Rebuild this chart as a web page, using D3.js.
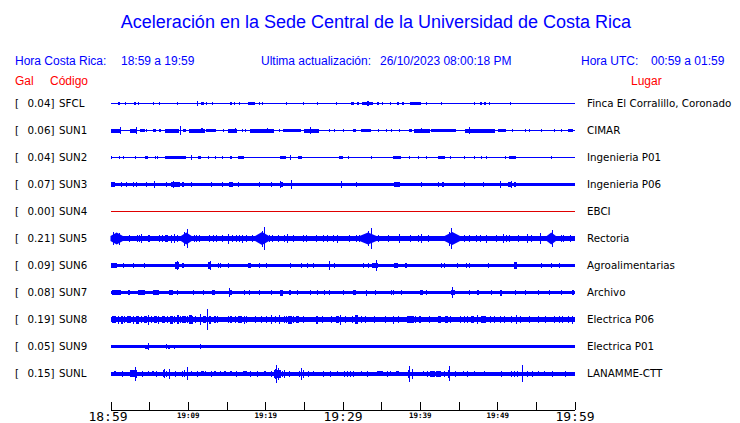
<!DOCTYPE html>
<html><head><meta charset="utf-8">
<script src="https://cdn.jsdelivr.net/npm/d3@7"></script>
<style>
html,body{margin:0;padding:0;background:#fff;}
svg{display:block;}
</style></head>
<body>
<svg id="c" width="740" height="423"></svg>
<script>
// ---------- data ----------
const codes  = ["SFCL","SUN1","SUN2","SUN3","SUN4","SUN5","SUN6","SUN7","SUN8","SUN9","SUNL"];
const gal    = [0.04, 0.06, 0.04, 0.07, 0.00, 0.21, 0.09, 0.08, 0.19, 0.05, 0.15];
const places = ["Finca El Corralillo, Coronado","CIMAR","Ingenieria P01","Ingenieria P06","EBCI",
                "Rectoria","Agroalimentarias","Archivo","Electrica P06","Electrica P01","LANAMME-CTT"];
// background (noise) half-amplitude of every trace
const baseAmp = [0.5, 0.5, 0.5, 1.5, 0.5, 2.5, 1.5, 1.5, 2.5, 1.5, 2];
// bursts: [minute after 18:59, half-amplitude, duration in minutes]
const SFCL = [[1.1,1.5,0.3],[1.9,1.5,0.1],[3.2,1.5,0.2],[3.6,1.5,0.1],[5.5,1.5,0.1],[6.3,1.5,0.1],[8.7,1.5,0.1],
  [11.3,2.5,0.15],[11.9,1.5,0.3],[12.4,1.5,0.2],[13.2,1.5,0.1],[15.6,1.5,0.2],[16.0,1.5,0.1],[16.7,1.5,0.1],
  [18.2,1.5,0.9],[19.3,1.5,0.1],[19.6,1.5,0.1],[22.7,1.5,0.1],[24.9,1.5,0.1],[26.8,1.5,0.1],[29.2,1.5,0.1],
  [31.3,1.5,0.5],[32.0,1.5,0.2],[33.2,1.5,1.4],[33.3,2.5,0.2],[34.6,1.5,0.15],[35.2,1.5,0.1],[36.2,1.5,0.1],
  [37.2,1.5,0.3],[37.8,1.5,0.3],[39.4,1.5,1.4],[40.8,1.5,0.1],[42.8,1.5,0.1],[47.1,1.5,0.1],[47.9,1.5,0.15],
  [48.4,1.5,0.2],[49.0,1.5,0.1],[51.7,1.5,0.1]];
const SUN1 = [[0.7,2,1.3],[1.3,3.5,0.13],[2.9,2,0.8],[3.35,3.5,0.13],[4.1,1.5,0.6],[4.6,1.5,0.13],[5.7,1.5,0.4],
  [6.4,1.5,0.3],[7.9,2,1.8],[9.0,4.5,0.13],[9.6,1.5,0.4],[11.2,2,2.0],[11.8,2.5,0.2],[13.0,1.5,1.2],[14.6,1.5,0.1],
  [15.8,2,1.1],[16.2,2.5,0.13],[17.0,1.5,0.1],[17.5,1.5,0.1],[18.3,1.5,0.4],[19.6,2,3.2],[20.3,2.5,0.13],
  [21.9,1.5,0.1],[23.5,1.5,2.3],[26.0,2,1.9],[25.8,3.5,0.13],[28.3,1.5,0.1],[29.0,1.5,0.1],[30.1,1.5,0.1],
  [31.6,1.5,0.4],[33.0,1.5,1.3],[34.6,1.5,0.1],[35.7,1.5,0.2],[36.3,1.5,0.1],[37.4,1.5,0.1],[38.8,1.5,0.3],
  [40.3,2,2.0],[40.2,2.5,0.13],[43.1,1.5,3.2],[47.8,2,3.9],[46.4,3.5,0.13],[50.6,1.5,1.1],[52.0,1.5,0.1],
  [53.6,1.5,0.1],[54.2,1.5,0.1],[55.7,1.5,0.1],[57.4,1.5,0.1],[58.3,1.5,0.1],[59.5,1.5,0.6]];
const SUN2 = [[0.1,1.5,0.2],[1.1,1.5,0.1],[1.7,1.5,0.1],[3.2,1.5,0.1],[4.6,1.5,0.4],[5.8,1.5,0.1],[6.1,1.5,0.1],
  [8.4,1.5,2.6],[7.7,1.5,0.2],[10.45,2.5,0.13],[11.5,1.5,0.4],[12.6,1.5,0.1],[13.5,1.5,0.1],[14.5,1.5,0.1],
  [15.6,1.5,0.3],[16.9,1.5,0.7],[22.3,1.5,0.8],[23.3,2.5,0.13],[24.5,1.5,0.6],[29.8,1.5,0.4],[30.8,1.5,0.1],
  [33.7,1.5,0.1],[37.0,1.5,1.0],[38.7,1.5,0.1],[39.8,1.5,0.1],[40.8,1.5,0.1],[42.8,1.5,0.8],[43.9,1.5,0.1],
  [45.8,1.5,0.1],[47.0,1.5,0.1],[48.0,1.5,0.1],[48.6,1.5,0.1],[51.0,1.5,0.1],[52.0,1.5,0.9],[57.0,1.5,0.1]];
const SUN3 = [[0.3,2.5,0.5],[1.4,2.5,0.1],[2.05,2.5,0.1],[2.9,2.5,0.1],[3.35,2.5,0.2],[4.6,2.5,0.1],[5.7,3.5,0.13],
  [7.2,2.5,0.1],[8.4,2.5,1.1],[8.1,3.5,0.13],[9.4,2.5,0.2],[10.45,2.5,0.1],[13.0,2.5,0.1],[14.5,2.5,0.1],
  [15.6,2.5,0.5],[16.6,2.5,0.1],[19.3,2.5,0.1],[20.8,2.5,0.1],[22.1,2.5,0.4],[22.0,3.5,0.13],[23.4,4.5,0.13],
  [29.85,3.5,0.13],[31.8,2.5,0.1],[37.0,2.5,0.8],[40.2,2.5,0.1],[42.4,2.5,0.2],[43.0,2.5,0.3],[45.8,2.5,0.1],
  [48.2,2.5,0.1],[50.45,3.5,0.13],[51.6,2.5,0.3],[52.3,2.5,0.3],[51.9,3.5,0.13]];
const SUN4 = [];
const SUN5 = [[0.8,6,1.6],[0.4,6.5,0.13],[1.2,6,0.13],[2.5,3.5,0.13],[3.5,3.5,0.13],[3.8,3.5,0.13],[4.0,4.5,0.13],
  [5.0,3.5,0.2],[5.1,3.5,0.13],[6.3,3.5,0.13],[6.7,3.5,0.13],[7.2,3.5,0.4],[7.9,4,0.13],[8.3,4.5,0.13],[8.7,3.5,0.13],
  [9.9,9.5,0.13],[9.6,7,0.13],[9.8,6,1.4],[10.8,3.5,0.13],[11.1,3.5,0.13],[11.5,3.5,0.13],[12.8,3.5,0.13],
  [13.3,3.5,0.13],[13.7,3.5,0.13],[14.5,3.5,0.13],[15.3,5,0.13],[15.8,3.5,0.13],[16.3,3.5,0.13],[16.7,3.5,0.13],
  [17.1,4,0.13],[17.6,3.5,0.13],[18.3,3.5,0.13],[18.4,3.5,0.13],[19.85,11.5,0.13],[19.7,8,0.13],[19.6,6.5,1.8],
  [20.6,3.5,0.13],[21.0,3.5,0.13],[21.7,3.5,0.13],[22.5,3.5,0.13],[22.9,4.5,0.13],[23.6,3.5,0.13],[24.9,3.5,0.13],
  [25.3,3.5,0.13],[26.6,3.5,0.13],[27.5,3.5,0.13],[28.1,3.5,0.13],[28.8,3.5,0.13],[29.4,4,0.13],[30.9,3.5,0.13],
  [31.8,3.5,0.13],[32.2,3.5,0.13],[33.8,10.5,0.13],[33.3,7.5,0.13],[33.3,6,2.2],[34.6,3.5,0.13],[35.9,3.5,0.13],
  [37.4,4.5,0.13],[38.8,3.5,0.13],[39.8,3.5,0.13],[40.2,4.5,0.13],[41.1,3.5,0.13],[44.1,10.5,0.13],[43.9,7,0.13],
  [44.2,6.5,2.0],[45.8,3.5,0.13],[46.4,3.5,0.13],[47.3,3.5,0.13],[47.9,3.5,0.13],[48.6,4,0.13],[49.9,3.5,0.13],
  [50.8,4.5,0.13],[51.2,3.5,0.13],[51.6,3.5,0.13],[52.7,3.5,0.13],[53.9,4.5,0.13],[54.5,3.5,0.13],[55.6,5.5,0.13],
  [57.1,8.5,0.13],[57.0,6,1.2],[58.3,3.5,0.13],[58.6,3.5,0.13],[59.5,3.5,0.13]];
const SUN6 = [[0.5,2.5,0.8],[1.7,2.5,0.1],[2.9,2.5,0.1],[4.4,2.5,0.1],[8.6,3.5,0.5],[8.7,4.5,0.13],[9.4,2.5,0.3],
  [12.8,3.5,0.3],[12.9,4.5,0.13],[13.9,2.5,0.1],[14.2,2.5,0.1],[15.2,2.5,0.1],[18.0,2.5,0.4],[19.3,2.5,0.1],
  [20.1,2.5,0.1],[23.2,2.5,0.1],[24.7,2.5,0.1],[25.5,2.5,0.1],[26.2,2.5,0.1],[28.3,4.5,0.13],[29.0,2.5,0.1],
  [32.7,2.5,0.1],[33.3,2.5,0.1],[34.2,2.5,0.8],[34.4,5.5,0.13],[36.9,2.5,0.6],[38.2,2.5,0.3],[42.8,2.5,0.1],
  [43.2,2.5,0.1],[44.9,2.5,0.1],[46.0,2.5,0.1],[46.4,2.5,0.1],[48.8,2.5,0.1],[52.4,3.5,0.4],[55.7,2.5,0.1],
  [57.0,2.5,0.1],[58.1,2.5,0.1]];
const SUN7 = [[0.8,2.5,1.2],[2.3,2.5,0.1],[2.5,2.5,0.1],[4.0,2.5,1.0],[5.9,2.5,0.8],[7.8,2.5,0.6],[8.7,2.5,0.1],
  [10.7,2.5,0.1],[12.0,2.5,0.1],[13.3,2.5,0.4],[15.4,4.5,0.13],[15.5,2.5,0.4],[17.3,2.5,0.1],[18.0,2.5,0.1],
  [19.3,2.5,0.1],[20.8,2.5,0.1],[22.1,3,0.3],[23.2,2.5,0.2],[24.2,2.5,0.2],[25.8,2.5,0.1],[26.8,2.5,0.1],
  [27.6,2.5,0.1],[28.3,2.5,0.1],[30.1,2.5,0.1],[31.6,2.5,0.4],[33.1,3,0.2],[34.2,2.5,0.1],[36.3,2.5,0.1],
  [36.6,2.5,0.1],[37.6,2.5,0.1],[40.2,2.5,0.3],[40.8,2.5,0.1],[44.2,5.5,0.13],[44.3,2.5,0.5],[46.4,2.5,0.1],
  [47.5,2.5,0.3],[49.2,2.5,0.1],[50.5,3,0.2],[52.3,2.5,0.1],[53.6,2.5,0.1],[55.3,2.5,0.1],[56.8,2.5,0.1],
  [58.3,2.5,0.1],[59.8,2.5,0.2]];
const SUN8 = [[0.3,3.5,0.13],[0.5,3.5,0.4],[1.0,4,0.13],[1.5,4,0.3],[1.8,3.5,0.13],[2.2,3.5,0.13],[2.5,3.5,0.4],
  [3.0,4,0.13],[3.3,3.5,0.13],[3.5,4,0.3],[4.0,3.5,0.13],[4.5,3.5,0.4],[4.85,5,0.13],[5.3,3.5,0.13],[5.8,3.5,0.4],
  [6.2,4,0.13],[6.8,3.5,0.4],[7.4,3.5,0.13],[7.9,4,0.4],[8.3,3.5,0.13],[8.7,4.5,0.2],[9.0,3.5,0.13],[9.5,3.5,0.4],
  [9.9,3.5,0.13],[10.3,4.5,0.4],[10.6,4,0.13],[11.0,3.5,0.13],[11.7,5.5,0.13],[12.2,3.5,0.4],[12.6,10.5,0.13],
  [12.9,4,0.3],[13.5,3.5,0.2],[13.9,3.5,0.13],[15.2,3.5,0.13],[15.6,3.5,0.3],[16.1,3.5,0.13],[16.7,3.5,0.5],
  [17.3,4,0.13],[17.6,3.5,0.13],[18.8,3.5,0.13],[19.5,3.5,0.13],[20.2,3.5,0.13],[20.8,4.5,0.13],[21.4,3.5,0.13],
  [21.9,4.5,0.13],[22.5,3.5,0.2],[22.8,3.5,0.13],[23.2,4,0.5],[23.6,3.5,0.13],[24.2,3.5,0.3],[25.0,3.5,0.13],
  [26.6,3.5,0.13],[26.7,4,0.3],[27.4,3.5,0.13],[28.6,3.5,0.13],[29.4,3.5,0.4],[29.8,5,0.13],[30.4,3.5,0.13],
  [31.3,3.5,0.2],[31.8,4.5,0.4],[32.4,3.5,0.13],[33.0,3.5,0.2],[34.2,3.5,0.13],[35.6,3.5,0.13],[36.6,4,0.13],
  [37.2,3.5,0.13],[38.8,3.5,1.0],[39.4,3.5,0.13],[40.0,3.5,0.2],[41.2,3.5,0.13],[42.5,3.5,0.4],[43.5,3.5,0.4],
  [44.0,3.5,0.13],[45.2,3.5,0.13],[45.8,3.5,0.2],[46.2,3.5,0.13],[46.8,3.5,0.4],[47.4,4.5,0.13],[48.0,3.5,0.13],
  [48.3,3.5,0.4],[49.1,3.5,0.13],[49.6,3.5,0.13],[50.4,3.5,0.13],[51.0,3.5,0.13],[51.8,3.5,0.13],[52.5,4.5,0.13],
  [53.0,3.5,0.13],[54.2,3.5,0.13],[55.3,3.5,0.13],[56.3,3.5,0.13],[57.4,3.5,0.13],[58.0,3.5,0.13],[58.5,3.5,0.13],
  [59.2,3.5,0.13],[59.8,4,0.13]];
const SUN9 = [[4.85,3.5,0.13],[4.6,2,0.4],[7.3,2.5,0.13],[7.6,2,0.3],[8.3,2,0.1],[11.7,2.5,0.13]];
const SUNL = [[0.6,2.5,0.3],[1.5,3,0.13],[2.9,3.5,0.8],[3.25,7,0.13],[3.4,4,0.13],[4.2,3,0.13],[4.85,2.5,0.1],
  [5.5,2.5,0.3],[6.0,3,0.13],[6.8,3.5,0.13],[7.0,4.5,0.13],[7.3,3,0.13],[7.65,5,0.13],[8.4,3,0.13],[9.3,3,0.13],
  [9.6,3.5,0.13],[9.9,6.5,0.13],[10.5,2.5,0.1],[11.3,3,0.13],[11.9,2.5,0.3],[12.3,2.5,0.1],[13.0,3,0.13],
  [13.5,2.5,0.2],[14.2,2.5,0.2],[14.8,2.5,0.2],[15.6,2.5,0.3],[16.3,3,0.13],[17.4,2.5,0.6],[18.1,3,0.13],
  [19.0,3,0.13],[20.0,2.5,0.2],[20.8,3,0.13],[21.5,9,0.13],[21.3,5,0.13],[21.7,6,0.13],[21.6,4,0.8],[22.3,3,0.13],
  [22.5,4,0.13],[23.2,3,0.13],[24.5,3,0.13],[24.7,6,0.13],[24.9,4,0.13],[25.6,3,0.13],[26.2,2.5,0.1],[27.5,3,0.13],
  [28.5,3,0.13],[29.4,2.5,0.1],[30.3,3,0.13],[30.6,3,0.13],[31.0,3,0.13],[31.4,3,0.13],[32.5,2.5,0.1],[33.2,3,0.13],
  [34.8,2.5,0.8],[35.8,3,0.13],[36.2,2.5,0.1],[37.1,2.5,0.4],[38.7,8,0.13],[38.5,4,0.13],[39.0,5,0.13],
  [40.4,2.5,0.1],[41.0,3,0.13],[41.6,3,0.6],[42.4,3,0.6],[43.2,3,0.13],[43.9,7.5,0.13],[43.7,4,0.13],[44.6,3,0.13],
  [45.6,2.5,0.1],[46.2,3,0.13],[47.1,2.5,0.1],[48.4,2.5,0.1],[50.6,3,0.13],[51.8,3,0.13],[52.2,3,0.13],
  [52.6,3,0.13],[53.3,8.5,0.13],[53.9,3,0.13],[54.6,3,0.13],[55.3,2.5,0.1],[56.1,2.5,0.1],[57.2,3,0.13],[58.8,3,0.13]];
const bursts = [SFCL,SUN1,SUN2,SUN3,SUN4,SUN5,SUN6,SUN7,SUN8,SUN9,SUNL];

const tickMinutes  = [0,5,10,15,20,25,30,35,40,45,50,55,60];
const majorMinutes = [0,30,60];
const labelMinutes = [0,10,20,30,40,50,60];

// ---------- scales ----------
const t0 = new Date(2023,9,26,18,59);
const t1 = new Date(2023,9,26,19,59);
const x  = d3.scaleTime().domain([t0,t1]).range([110.5,574.5]);
const atMin = m => t0.getTime() + Math.max(0,Math.min(60,m))*60000;
const xm = m => x(new Date(atMin(m)));
const row = d3.scalePoint().domain(codes).range([103.5,373.5]);
const amp = d3.scaleLinear().domain([0,10]).range([0,10]);

const svg = d3.select("#c");
const BLUE = "#0000ff", RED = "#ff0000";

// ---------- titles ----------
svg.append("text").attr("x",376).attr("y",28).attr("text-anchor","middle")
  .attr("font-family","Liberation Sans, Arial, sans-serif").attr("font-size",18).attr("fill",BLUE)
  .text("Aceleración en la Sede Central de la Universidad de Costa Rica");

const hdr = [["Hora Costa Rica:",15],["18:59 a 19:59",121],["Ultima actualización:",261],
             ["26/10/2023 08:00:18 PM",380],["Hora UTC:",581],["00:59 a 01:59",651]];
svg.selectAll("text.hdr").data(hdr).join("text").attr("class","hdr")
  .attr("x",d=>d[1]).attr("y",64.5)
  .attr("font-family","Liberation Sans, Arial, sans-serif").attr("font-size",12).attr("fill",BLUE)
  .text(d=>d[0]);

const sub = [["Gal",15],["Código",50],["Lugar",631]];
svg.selectAll("text.sub").data(sub).join("text").attr("class","sub")
  .attr("x",d=>d[1]).attr("y",84.5)
  .attr("font-family","Liberation Sans, Arial, sans-serif").attr("font-size",12).attr("fill",RED)
  .text(d=>d[0]);

// ---------- station rows ----------
const rows = svg.selectAll("g.row").data(codes).join("g").attr("class","row")
  .attr("transform",d=>`translate(0,${row(d)})`);

const lf = "DejaVu Sans, sans-serif";
rows.append("text").attr("x",15).attr("y",3.8).attr("font-family",lf).attr("font-size",10.3).text("[");
rows.append("text").attr("x",54.5).attr("y",3.8).attr("text-anchor","end").attr("font-family",lf)
  .attr("font-size",10.3).text((d,i)=>d3.format(".2f")(gal[i])+"]");
rows.append("text").attr("x",59).attr("y",3.8).attr("font-family",lf).attr("font-size",10.3).text(d=>d);
rows.append("text").attr("x",587).attr("y",3.8).attr("font-family",lf).attr("font-size",10.3)
  .text((d,i)=>places[i]);

const col = i => gal[i] === 0 ? "#e00000" : BLUE;

// background trace
rows.append("rect").attr("shape-rendering","crispEdges")
  .attr("x",xm(0)).attr("width",xm(60)-xm(0))
  .attr("y",(d,i)=>-amp(baseAmp[i])).attr("height",(d,i)=>2*amp(baseAmp[i]))
  .attr("fill",(d,i)=>col(i));

// bursts: short ones as bars, long strong ones as spindles
const spindle = d3.area().x(p=>xm(p[0])).y0(p=>-amp(p[1])).y1(p=>amp(p[1])).curve(d3.curveLinear);
rows.each(function(d,i){
  const g = d3.select(this);
  const isSpindle = b => b[2] >= 0.4 && (b[1]-baseAmp[i]) >= 2.5;
  g.selectAll("rect.b").data(bursts[i].filter(b=>!isSpindle(b))).join("rect").attr("class","b")
    .attr("shape-rendering","crispEdges")
    .attr("x",b=>xm(b[0]-b[2]/2))
    .attr("width",b=>Math.max(1,xm(b[0]+b[2]/2)-xm(b[0]-b[2]/2)))
    .attr("y",b=>-amp(b[1])).attr("height",b=>2*amp(b[1]))
    .attr("fill",col(i));
  g.selectAll("path.s").data(bursts[i].filter(isSpindle)).join("path").attr("class","s")
    .attr("d",b=>spindle([[b[0]-b[2]/2,baseAmp[i]],[b[0],b[1]],[b[0]+b[2]/2,baseAmp[i]]]))
    .attr("fill",col(i));
});

// ---------- time axis ----------
const fmt = d3.timeFormat("%H:%M");
const tickDates = tickMinutes.map(m => d3.timeMinute.offset(t0, m));
const axis = d3.axisBottom(x)
  .tickValues(tickDates)
  .tickSizeInner(-8).tickSizeOuter(0).tickPadding(0)
  .tickFormat(d => { const m = d3.timeMinute.count(t0,d); return labelMinutes.includes(m) ? fmt(d) : ""; });
const ax = svg.append("g").attr("transform","translate(0,409.5)").call(axis);
ax.select(".domain").attr("stroke","#000").attr("shape-rendering","crispEdges");
ax.selectAll(".tick line").attr("stroke","#000").attr("shape-rendering","crispEdges");
ax.selectAll(".tick text").attr("dy",null).attr("fill","#000")
  .attr("font-family","DejaVu Sans Mono, monospace")
  .each(function(d){
    const m = d3.timeMinute.count(t0,d);
    const big = majorMinutes.includes(m);
    d3.select(this).attr("font-size", big ? 13 : 7.5)
      .attr("y", big ? 11.5 : 8)
      .attr("x", m === 0 ? -3 : 0)
      .attr("font-weight", big ? null : "bold");
  });
</script>
</body></html>
